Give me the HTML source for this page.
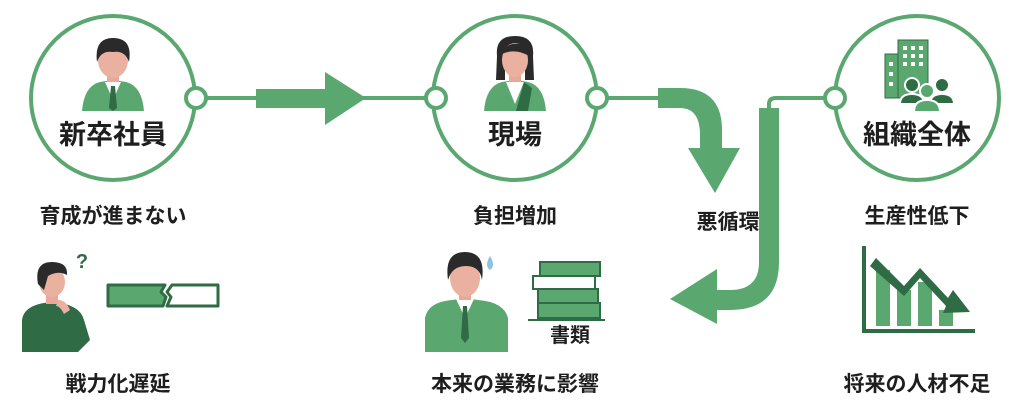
<!DOCTYPE html>
<html><head><meta charset="utf-8"><style>
html,body{margin:0;padding:0;background:#fff;width:1024px;height:412px;overflow:hidden}
svg{display:block}
text{font-family:"Liberation Sans","Noto Sans CJK JP",sans-serif;font-weight:bold;fill:#1e1e1e;text-anchor:middle}
</style></head><body>
<svg width="1024" height="412" viewBox="0 0 1024 412" xmlns="http://www.w3.org/2000/svg">
<g fill="none" stroke="#5aa870" stroke-width="4">
<circle cx="113" cy="98" r="82"/>
<circle cx="515" cy="98" r="82"/>
<circle cx="917" cy="98" r="82"/>
<line x1="206" y1="98" x2="258" y2="98"/>
<line x1="360" y1="98" x2="426" y2="98"/>
<line x1="607" y1="98" x2="660" y2="98"/>
<path d="M769 110 V104 Q769 98 776 98 H825"/>
</g>
<g fill="#fff" stroke="#5aa870" stroke-width="4">
<circle cx="196" cy="98" r="10"/>
<circle cx="436" cy="98" r="10"/>
<circle cx="597" cy="98" r="10"/>
<circle cx="835" cy="98" r="10"/>
</g>
<g fill="#5aa870">
<path d="M256 89 H325 V72 L366 98 L325 125 V108 H256 Z"/>
<path d="M658 88 H680 Q722 88 722 130 V148 H740 L715 193 L688 148 H700 V135 Q700 108 680 108 H658 Z"/>
<path d="M759 108 H779 V262 Q779 310 730 310 H717 V324 L670 299 L717 269 V290 H730 Q759 290 759 262 Z"/>
</g>
<!-- person 1 -->
<g>
<path d="M82 111 Q84 86 100 82 L113 80 L126 82 Q142 86 144 111 Z" fill="#5aa870"/>
<path d="M105 82 L113 100 L121 82 Z" fill="#fff"/>
<path d="M111 86 H115 L117 108 L113 111 L109 108 Z" fill="#2f6b45"/>
<rect x="107" y="72" width="12" height="10" fill="#e9a898"/>
<ellipse cx="113" cy="60" rx="15" ry="18" fill="#eab0a0"/>
<path d="M97 62 Q94 38 113 38 Q133 38 129 62 Q125 50 113 52 Q101 50 97 62Z" fill="#2a2a2a"/>
</g>
<!-- person 2 -->
<g>
<path d="M484 111 Q486 86 502 82 L515 80 L528 82 Q544 86 546 111 Z" fill="#5aa870"/>
<path d="M506 82 L515 104 L524 82 Z" fill="#fff"/>
<path d="M524 82 L516 111 H528 L532 88Z" fill="#2f6b45"/>
<rect x="509" y="72" width="12" height="10" fill="#e9a898"/>
<path d="M497 56 Q495 36 515 36 Q535 36 533 56 L534 80 H525 V62 Q515 52 505 62 V80 H496Z" fill="#2a2a2a"/>
<ellipse cx="515" cy="60" rx="13" ry="17" fill="#eab0a0"/>
<path d="M502 54 Q506 42 520 44 Q529 48 529 56 Q515 48 502 54Z" fill="#2a2a2a"/>
</g>
<!-- building -->
<g>
<rect x="885" y="54" width="14" height="44" fill="#5aa870" stroke="#2f6b45"/>
<rect x="898" y="40" width="30" height="58" fill="#5aa870" stroke="#2f6b45"/>
<g fill="#fff"><rect x="903" y="46" width="4" height="4"/><rect x="911" y="46" width="4" height="4"/><rect x="919" y="46" width="4" height="4"/>
<rect x="903" y="54" width="4" height="4"/><rect x="911" y="54" width="4" height="4"/><rect x="919" y="54" width="4" height="4"/>
<rect x="903" y="62" width="4" height="4"/><rect x="911" y="62" width="4" height="4"/><rect x="919" y="62" width="4" height="4"/>
<rect x="889" y="62" width="4" height="4"/><rect x="889" y="72" width="4" height="4"/><rect x="889" y="82" width="4" height="4"/></g>
<g stroke="#fff" stroke-width="2">
<circle cx="912" cy="85" r="7" fill="#2f6b45"/><path d="M900 104 Q900 94 912 94 Q924 94 924 104Z" fill="#2f6b45"/>
<circle cx="942" cy="85" r="7" fill="#2f6b45"/><path d="M930 104 Q930 94 942 94 Q954 94 954 104Z" fill="#2f6b45"/>
<circle cx="927" cy="91" r="7" fill="#5aa870"/><path d="M914 112 Q914 100 927 100 Q940 100 940 112Z" fill="#5aa870"/>
</g>
</g>
<!-- thinking person -->
<g>
<path d="M22 352 V320 Q24 304 52 302 Q80 304 84 320 L90 340 L78 352Z" fill="#2f6b45"/>
<rect x="46" y="294" width="12" height="10" fill="#e9a898"/>
<ellipse cx="52" cy="282" rx="13" ry="15" fill="#eab0a0"/>
<path d="M38 284 Q34 262 52 262 Q68 262 67 275 Q58 270 48 276 L44 290Z" fill="#2a2a2a"/>
<path d="M58 300 Q66 300 70 310 L64 314 Q60 306 56 306Z" fill="#eab0a0"/>
<text x="82" y="268" font-size="20" style="fill:#2f6b45">?</text>
</g>
<!-- broken bar -->
<path d="M108 285 H165 L161 292 L166 297 L163 306 H108 Z" fill="#5aa870" stroke="#2f6b45" stroke-width="3" stroke-linejoin="round"/>
<path d="M172 285 H218 V306 H167 L171 297 L167 292 Z" fill="#fff" stroke="#2f6b45" stroke-width="3" stroke-linejoin="round"/>
<!-- worried person -->
<g>
<path d="M425 352 V318 Q428 302 452 300 L465 298 L478 300 Q504 302 508 318 V352Z" fill="#5aa870"/>
<path d="M456 299 L465 318 L474 299Z" fill="#fff"/>
<path d="M463 306 H467 L469 338 L465 343 L461 338Z" fill="#2f6b45"/>
<rect x="459" y="288" width="12" height="12" fill="#e9a898"/>
<ellipse cx="465" cy="278" rx="15" ry="19" fill="#eab0a0"/>
<path d="M448 280 Q444 252 465 252 Q486 252 482 280 Q480 266 466 266 Q452 266 448 280Z" fill="#2a2a2a"/>
<path d="M490 256 Q484 266 490 270 Q496 266 490 256Z" fill="#8cc3dd"/>
</g>
<!-- books -->
<g>
<rect x="540" y="262" width="60" height="14" fill="#5aa870" stroke="#2f6b45" stroke-width="2"/>
<rect x="533" y="276" width="62" height="13" fill="#fff" stroke="#2f6b45" stroke-width="2"/>
<rect x="538" y="289" width="60" height="14" fill="#5aa870" stroke="#2f6b45" stroke-width="2"/>
<rect x="538" y="303" width="62" height="15" fill="#5aa870" stroke="#2f6b45" stroke-width="2"/>
<line x1="528" y1="320" x2="605" y2="320" stroke="#2f6b45" stroke-width="2"/>
</g>
<!-- chart -->
<g>
<path d="M864 246 V331 H975" fill="none" stroke="#2f6b45" stroke-width="4"/>
<rect x="876" y="270" width="14" height="56" fill="#5aa870"/>
<rect x="897" y="290" width="14" height="36" fill="#5aa870"/>
<rect x="918" y="282" width="14" height="44" fill="#5aa870"/>
<rect x="939" y="310" width="14" height="16" fill="#5aa870"/>
<path d="M876 258 L904 286 L920 268 L948 298 L953 290 L970 312 L943 313 L946 306 L920 278 L904 296 L870 266Z" fill="#2f6b45"/>
</g>
<!-- labels -->
<text x="113" y="144" font-size="27">新卒社員</text>
<text x="515" y="144" font-size="27">現場</text>
<text x="917" y="144" font-size="27">組織全体</text>
<text x="113" y="223" font-size="21">育成が進まない</text>
<text x="515" y="223" font-size="21">負担増加</text>
<text x="728" y="229" font-size="21">悪循環</text>
<text x="917" y="223" font-size="21">生産性低下</text>
<text x="570" y="342" font-size="20">書類</text>
<text x="118" y="391" font-size="21">戦力化遅延</text>
<text x="515" y="391" font-size="21">本来の業務に影響</text>
<text x="917" y="391" font-size="21">将来の人材不足</text>
</svg>
</body></html>
